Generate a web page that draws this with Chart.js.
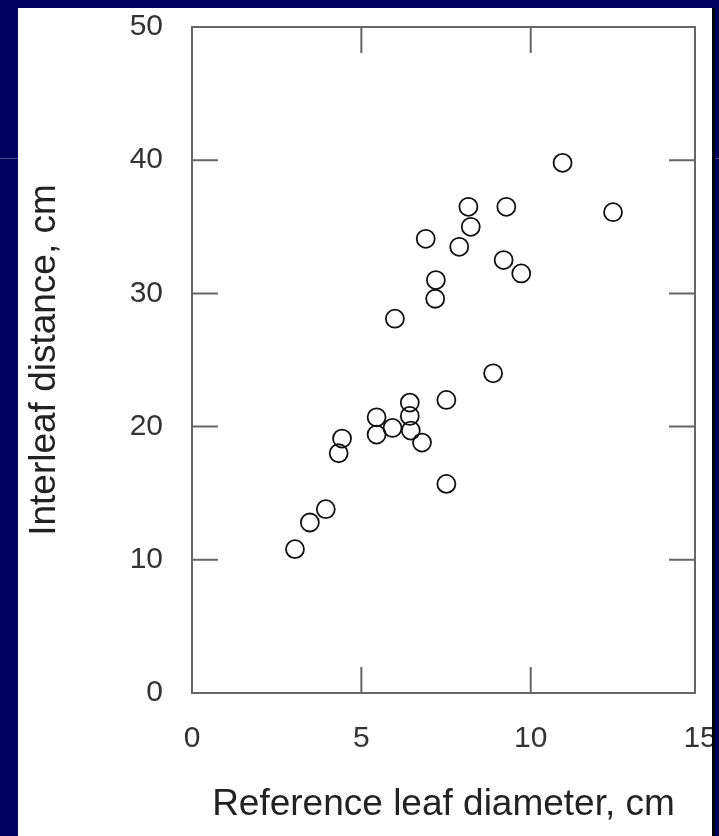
<!DOCTYPE html>
<html>
<head>
<meta charset="utf-8">
<script src="https://cdn.jsdelivr.net/npm/chart.js@4/dist/chart.umd.min.js"></script>
<style>
  html, body { margin: 0; padding: 0; }
  body { width: 719px; height: 836px; background: #00005e; position: relative; overflow: hidden; }
  .linea { position: absolute; left: 0; top: 158px; width: 719px; height: 1px; background: #4a4a92; }
  .panel { position: absolute; left: 18px; top: 8px; width: 694px; height: 828px; background: #fff; border-right: 3px solid #000; }
  canvas { display: block; }
</style>
</head>
<body>
<div class="linea"></div>
<div class="panel"><canvas id="myChart" width="694" height="828"></canvas></div>
<script>
// diametro de la hoja de referencia (cm) y distancia entre hojas (cm)
const diametro = [3.04, 3.48, 3.95, 4.33, 4.43, 5.45, 5.45, 5.92, 6.43, 6.43, 6.46, 6.79, 7.51, 7.51,
                  8.89, 5.99, 7.20, 7.18, 6.90, 7.89, 8.16, 8.23, 9.28, 9.20, 9.72, 10.94, 12.43];
const distancia = [10.8, 12.8, 13.8, 18.0, 19.1, 20.7, 19.4, 19.9, 21.8, 20.8, 19.7, 18.8, 22.0, 15.7,
                   24.0, 28.1, 31.0, 29.6, 34.1, 33.5, 36.5, 35.0, 36.5, 32.5, 31.5, 39.8, 36.1];
const xTicks = [0, 5, 10, 15];
const yTicks = [0, 10, 20, 30, 40, 50];

const fuente = "'Liberation Sans', Arial, Helvetica, sans-serif";
const puntos = diametro.map((x, i) => ({ x: x, y: distancia[i] }));

// sin relleno extra por las etiquetas que sobresalen
function sinPadding(s) {
    s.paddingTop = 0;
    s.paddingBottom = 0;
    s.paddingLeft = 0;
    s.paddingRight = 0;
}

// marco y marcas hacia dentro
const marco = {
    id: "marco",
    afterDraw(chart) {
        const { ctx, chartArea: a, scales } = chart;
        const largo = 26;
        ctx.save();
        ctx.strokeStyle = "#666";
        ctx.lineWidth = 2;
        ctx.strokeRect(a.left, a.top, a.right - a.left, a.bottom - a.top);
        ctx.beginPath();
        yTicks.forEach(v => {
            if (v <= 0 || v >= 50) return;
            const py = scales.y.getPixelForValue(v);
            ctx.moveTo(a.left, py); ctx.lineTo(a.left + largo, py);
            ctx.moveTo(a.right, py); ctx.lineTo(a.right - largo, py);
        });
        xTicks.forEach(v => {
            if (v <= 0 || v >= 15) return;
            const px = scales.x.getPixelForValue(v);
            ctx.moveTo(px, a.bottom); ctx.lineTo(px, a.bottom - largo);
            ctx.moveTo(px, a.top); ctx.lineTo(px, a.top + largo);
        });
        ctx.stroke();
        ctx.restore();
    }
};

const config = {
    type: "scatter",
    data: {
        datasets: [{
            label: "Interleaf distance",
            data: puntos,
            pointStyle: "circle",
            pointRadius: 9,
            borderWidth: 1.8,
            borderColor: "#111",
            backgroundColor: "rgba(0,0,0,0)"
        }]
    },
    options: {
        responsive: false,
        animation: false,
        devicePixelRatio: 1,
        layout: { padding: { top: 19, right: 17, bottom: 0, left: 0 } },
        plugins: { legend: { display: false }, tooltip: { enabled: false } },
        scales: {
            x: {
                type: "linear",
                min: 0,
                max: 14.85,
                afterBuildTicks: s => { s.ticks = xTicks.map(v => ({ value: v })); },
                afterFit: s => { s.height = 143; sinPadding(s); },
                grid: { display: false, drawTicks: false },
                border: { display: false },
                ticks: { font: { family: fuente, size: 30 }, color: "#333", padding: 28, maxRotation: 0, autoSkip: false },
                title: {
                    display: true,
                    text: "Reference leaf diameter, cm",
                    color: "#222",
                    font: { family: fuente, size: 37 },
                    padding: { top: 0, bottom: 9 }
                }
            },
            y: {
                type: "linear",
                min: 0,
                max: 50,
                afterBuildTicks: s => { s.ticks = yTicks.map(v => ({ value: v })); },
                afterFit: s => { s.width = 174; sinPadding(s); },
                grid: { display: false, drawTicks: false },
                border: { display: false },
                ticks: { font: { family: fuente, size: 30 }, color: "#333", padding: 29, autoSkip: false },
                title: {
                    display: true,
                    text: "Interleaf distance, cm",
                    color: "#222",
                    font: { family: fuente, size: 37 },
                    padding: { top: 5, bottom: 0 }
                }
            }
        }
    },
    plugins: [marco]
};

const myChart = document.querySelector("#myChart");
const chart = new Chart(myChart, config);
</script>
</body>
</html>
